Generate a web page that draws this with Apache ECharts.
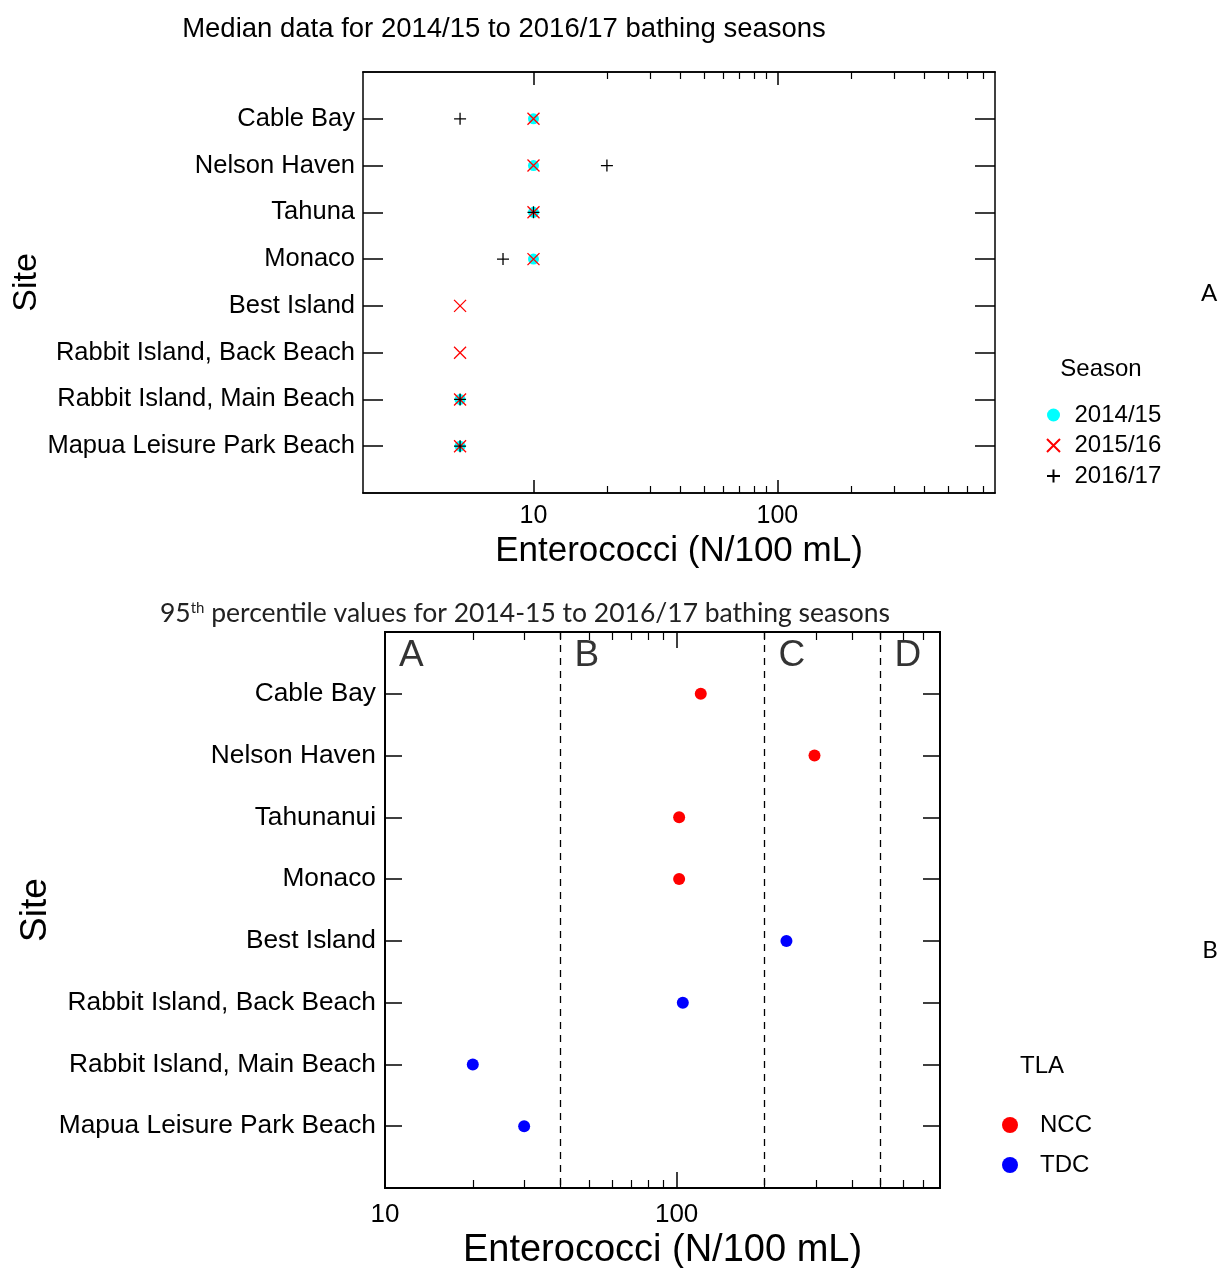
<!DOCTYPE html>
<html lang="en">

<head>
    <meta charset="UTF-8">
    <title>Enterococci bathing seasons</title>
    <style>
        body { margin: 0; background: #fff; }
        #chart { width: 1222px; height: 1268px; }
    </style>
</head>

<body>
    <div id="chart"></div>
    <script src="https://cdn.jsdelivr.net/npm/echarts@6/dist/echarts.min.js"></script>
    <script>
        // site names, shared by both panels (top to bottom)
        const sites = ['Cable Bay', 'Nelson Haven', 'Tahuna', 'Monaco', 'Best Island',
            'Rabbit Island, Back Beach', 'Rabbit Island, Main Beach', 'Mapua Leisure Park Beach'];
        const sitesB = ['Cable Bay', 'Nelson Haven', 'Tahunanui', 'Monaco', 'Best Island',
            'Rabbit Island, Back Beach', 'Rabbit Island, Main Beach', 'Mapua Leisure Park Beach'];

        // panel A: median enterococci per season
        const seasons = ['2014/15', '2015/16', '2016/17'];
        const median1415 = [10, 10, 10, 10, null, null, 5, 5];
        const median1516 = [10, 10, 10, 10, 5, 5, 5, 5];
        const median1617 = [5, 20, 10, 7.5, null, null, 5, 5];

        // panel B: 95th percentile per site, council
        const p95Values = [121, 297, 102, 102, 238, 105, 20, 30];
        const p95Tla = ['NCC', 'NCC', 'NCC', 'NCC', 'TDC', 'TDC', 'TDC', 'TDC'];
        const tlaNames = ['NCC', 'TDC'];

        // guideline bands
        const bandBreaks = [40, 200, 500];
        const bandLetters = ['A', 'B', 'C', 'D'];
        const bandStarts = [10, 40, 200, 500];

        // tick labels
        const tickLabels = [10, 100];
        const minorTicks = [20, 30, 40, 50, 60, 70, 80, 90, 200, 300, 400, 500, 600, 700];

        const FONT = 'Liberation Sans, Arial, sans-serif';
        const CAL = 'Lato, sans-serif';
        const siteIdx = [1, 2, 3, 4, 5, 6, 7, 8];

        const chart = echarts.init(document.getElementById('chart'));

        function toPoints(values) {
            return values.map((v, i) => v == null ? null : [v, i + 1]);
        }

        function xAxes(grid, min, max, opts) {
            const base = {
                type: 'log', logBase: 10, gridIndex: grid, min: min, max: max,
                splitLine: { show: false },
                axisLine: { show: true, onZero: false, lineStyle: { color: '#000', width: opts.lw } }
            };
            return [
                Object.assign({}, base, {
                    position: 'bottom',
                    name: 'Enterococci (N/100 mL)', nameLocation: 'middle', nameGap: opts.nameGap,
                    nameMoveOverlap: false,
                    nameTextStyle: { fontFamily: FONT, fontSize: opts.nameSize, color: '#000' },
                    axisTick: { inside: true, length: opts.major, lineStyle: { color: '#000', width: 1.5 }, customValues: tickLabels },
                    axisLabel: { customValues: tickLabels, fontFamily: FONT, fontSize: opts.labelSize, color: '#000', margin: opts.labelMargin }
                }),
                Object.assign({}, base, {
                    position: 'bottom',
                    axisTick: { inside: true, length: opts.minor, lineStyle: { color: '#000', width: 1.2 }, customValues: minorTicks },
                    axisLabel: { show: false }
                }),
                Object.assign({}, base, {
                    position: 'top',
                    axisTick: { inside: true, length: opts.major, lineStyle: { color: '#000', width: 1.5 }, customValues: tickLabels },
                    axisLabel: { show: false }
                }),
                Object.assign({}, base, {
                    position: 'top',
                    axisTick: { inside: true, length: opts.minor, lineStyle: { color: '#000', width: 1.2 }, customValues: minorTicks },
                    axisLabel: { show: false }
                })
            ];
        }

        function yAxes(grid, names, opts) {
            const base = {
                type: 'value', gridIndex: grid, min: 0, max: 9, inverse: true,
                splitLine: { show: false },
                axisLine: { show: true, onZero: false, lineStyle: { color: '#000', width: opts.lw } },
                axisTick: { inside: true, length: opts.tick, lineStyle: { color: '#000', width: 1.5 }, customValues: siteIdx }
            };
            return [
                Object.assign({}, base, {
                    position: 'left',
                    name: 'Site', nameLocation: 'middle', nameRotate: 90, nameGap: opts.nameGap,
                    nameMoveOverlap: false,
                    nameTextStyle: { fontFamily: FONT, fontSize: opts.nameSize, color: '#000' },
                    axisLabel: {
                        customValues: siteIdx, margin: opts.margin, padding: [4, 0, 0, 0],
                        fontFamily: FONT, fontSize: opts.labelSize, color: '#000',
                        formatter: v => names[v - 1] || ''
                    }
                }),
                Object.assign({}, base, { position: 'right', axisLabel: { show: false } })
            ];
        }

        const xsA = xAxes(0, 2, 780, { lw: 1.5, nameGap: 41, nameSize: 35, major: 13, minor: 7, labelSize: 25, labelMargin: 11 });
        const xsB = xAxes(1, 10, 800, { lw: 2, nameGap: 44, nameSize: 38, major: 16, minor: 8, labelSize: 26, labelMargin: 14 });
        const ysA = yAxes(0, sites, { lw: 1.5, tick: 20, nameGap: 319, nameSize: 34, margin: 8, labelSize: 25.5 });
        const ysB = yAxes(1, sitesB, { lw: 2, tick: 17, nameGap: 331, nameSize: 37, margin: 9, labelSize: 26.3 });

        const crossSym = 'path://M0,0L10,10M10,0L0,10';
        const plusSym = 'path://M5,0L5,10M0,5L10,5';

        const series = [
            {
                name: seasons[0], type: 'scatter', xAxisIndex: 0, yAxisIndex: 0,
                symbol: 'circle', symbolSize: 11, data: toPoints(median1415),
                itemStyle: { color: '#00ffff', opacity: 1 }, emphasis: { disabled: true }
            },
            {
                name: seasons[1], type: 'scatter', xAxisIndex: 0, yAxisIndex: 0,
                symbol: crossSym, symbolSize: 12, data: toPoints(median1516),
                itemStyle: { color: 'rgba(0,0,0,0)', borderColor: '#ff0000', borderWidth: 1.3, opacity: 1 }, emphasis: { disabled: true }
            },
            {
                name: seasons[2], type: 'scatter', xAxisIndex: 0, yAxisIndex: 0,
                symbol: plusSym, symbolSize: 12, data: toPoints(median1617),
                itemStyle: { color: 'rgba(0,0,0,0)', borderColor: '#000', borderWidth: 1.3, opacity: 1 }, emphasis: { disabled: true }
            }
        ];

        const tlaColors = { NCC: '#ff0000', TDC: '#0000ff' };
        tlaNames.forEach(tla => {
            series.push({
                name: tla, type: 'scatter', xAxisIndex: 4, yAxisIndex: 2,
                symbol: 'circle', symbolSize: 12,
                data: p95Values.map((v, i) => p95Tla[i] === tla ? [v, i + 1] : null),
                itemStyle: { color: tlaColors[tla], opacity: 1 }, emphasis: { disabled: true },
                z: 5
            });
        });

        // dashed guideline breaks and band letters
        series.push({
            type: 'scatter', xAxisIndex: 4, yAxisIndex: 2, symbolSize: 0, silent: true,
            data: bandStarts.map((v, i) => ({ value: [v, 0], name: bandLetters[i] })),
            label: {
                show: true, position: [14, 5], align: 'left', verticalAlign: 'top',
                formatter: p => p.name, fontFamily: FONT, fontSize: 37, color: '#000'
            },
            markLine: {
                silent: true, symbol: 'none', label: { show: false },
                lineStyle: { type: [7, 6], color: '#000', width: 1.3 },
                data: bandBreaks.map(v => ({ xAxis: v }))
            }
        });

        const plain = (size, fam) => ({ fontFamily: fam || FONT, fontSize: size, fontWeight: 'normal', color: '#000' });

        const option = {
            backgroundColor: '#fff',
            animation: false,
            title: [
                { text: 'Median data for 2014/15 to 2016/17 bathing seasons', left: 504, top: 15, textAlign: 'center', padding: 0,
                  textStyle: plain(27.5) },
                { text: '95{sup|th} percentile values for 2014-15 to 2016/17 bathing seasons', left: 525, top: 600, textAlign: 'center', padding: 0,
                  textStyle: Object.assign(plain(26.5, CAL), { color: '#222',
                      rich: { sup: { fontFamily: CAL, fontSize: 15, color: '#222', padding: [0, 0, 11, 0] } } }) },
                { text: 'Season', left: 1101, top: 357, textAlign: 'center', padding: 0, textStyle: plain(24) },
                { text: 'TLA', left: 1042, top: 1054, textAlign: 'center', padding: 0, textStyle: plain(24) },
                { text: 'A', left: 1209, top: 281, textAlign: 'center', padding: 0, textStyle: plain(24, CAL) },
                { text: 'B', left: 1210, top: 938, textAlign: 'center', padding: 0, textStyle: plain(24, CAL) }
            ],
            legend: [
                { data: seasons, orient: 'vertical', left: 1046, top: 403, padding: 0, itemWidth: 30, itemHeight: 13, itemGap: 6.5,
                  selectedMode: false, textStyle: { fontFamily: FONT, fontSize: 24, color: '#000', padding: [0, 0, 0, 1] } },
                { data: tlaNames, orient: 'vertical', left: 1002, top: 1113, padding: 0, itemWidth: 46, itemHeight: 16, itemGap: 16,
                  selectedMode: false, textStyle: { fontFamily: FONT, fontSize: 24, color: '#000', padding: [0, 0, 0, 2] } }
            ],
            grid: [
                { left: 363, top: 72, width: 632, height: 421, containLabel: false, outerBoundsMode: 'none' },
                { left: 385, top: 632, width: 555, height: 556, containLabel: false, outerBoundsMode: 'none' }
            ],
            xAxis: xsA.concat(xsB),
            yAxis: ysA.concat(ysB),
            series: series
        };

        chart.setOption(option);
    </script>
</body>

</html>
